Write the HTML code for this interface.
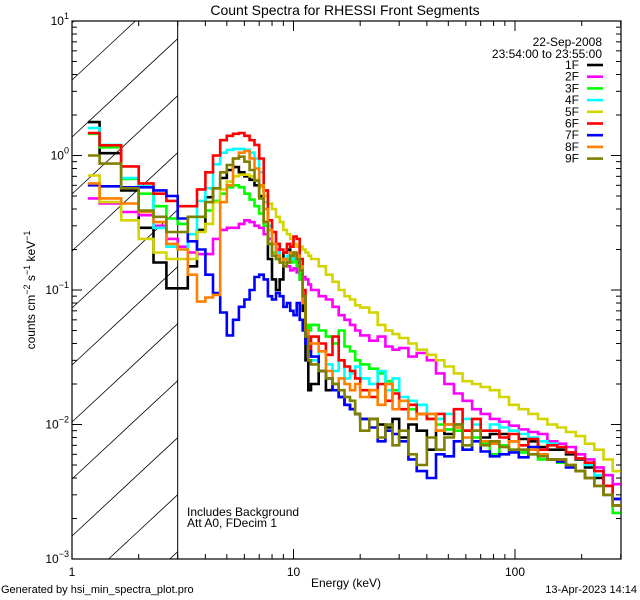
<!DOCTYPE html>
<html><head><meta charset="utf-8">
<style>
html,body{margin:0;padding:0;background:#fff;width:640px;height:600px;overflow:hidden;}
svg{display:block;font-family:"Liberation Sans",sans-serif;overflow:hidden;}
</style></head>
<body>
<svg id="chart" width="640" height="600" viewBox="0 0 640 600" xmlns="http://www.w3.org/2000/svg">
<rect width="640" height="600" fill="#fff"/>
<text x="345" y="15" font-size="14" text-anchor="middle">Count Spectra for RHESSI Front Segments</text>
<g id="hatch"></g>
<g id="axes"></g>
<g id="series"></g>
<g id="legend">
<text x="602" y="46" font-size="12" text-anchor="end">22-Sep-2008</text>
<text x="602" y="58" font-size="12" text-anchor="end">23:54:00 to 23:55:00</text>
</g>
<text x="187" y="516" font-size="12">Includes Background</text>
<text x="187" y="527" font-size="12">Att A0, FDecim 1</text>
<text x="346" y="587" font-size="12" text-anchor="middle">Energy (keV)</text>
<text transform="translate(35,290) rotate(-90)" font-size="12" text-anchor="middle">counts cm<tspan dy="-5" font-size="9">−2</tspan><tspan dy="5"> s</tspan><tspan dy="-5" font-size="9">−1</tspan><tspan dy="5"> keV</tspan><tspan dy="-5" font-size="9">−1</tspan></text>
<text x="1" y="593" font-size="11">Generated by hsi_min_spectra_plot.pro</text>
<text x="637" y="593" font-size="11" text-anchor="end">13-Apr-2023 14:14</text>
</svg>
<script>
const names = ["1F","2F","3F","4F","5F","6F","7F","8F","9F"];
const colors = ["#000000","#ff00ff","#00ff00","#00ffff","#d4d400","#ff0000","#0000ff","#ff8000","#808000"];
const lowEdges = [1.18,1.333,1.667,2,2.333,2.667,3,3.333,3.667,4,4.333,4.667,5,5.333,5.667,6,6.333,6.667,7,7.333,7.667,8,8.333,8.667,9,9.333,9.667,10,10.333,10.667,11,11.333,11.667];
const highEdges = [12,13,14,15,16,17,18,19,20,22,24,26,28,30,33,36,40,44,48,53,58,64,70,77,85,94,104,115,127,140,155,170,188,207,228,251,276,300];
const s1F = [1.77,1.04,0.55,0.29,0.16,0.103,0.103,0.15,0.28,0.49,0.57,0.68,0.78,0.82,0.75,0.70,0.66,0.60,0.50,0.32,0.17,0.12,0.10,0.12,0.19,0.20,0.17,0.18,0.16,0.12,0.07,0.03,0.018,
 0.02,0.025,0.018,0.02,0.016,0.014,0.013,0.012,0.011,0.011,0.010,0.0095,0.011,0.008,0.010,0.009,0.0065,0.009,0.0085,0.010,0.009,0.009,0.008,0.0085,0.0085,0.0075,0.0078,0.0075,0.0068,0.0065,0.0065,0.006,0.0055,0.0048,0.004,0.0035,0.0025];
const s2F = [0.48,0.44,0.38,0.36,0.30,0.24,0.21,0.19,0.185,0.185,0.24,0.28,0.29,0.29,0.31,0.33,0.32,0.30,0.29,0.26,0.24,0.22,0.20,0.17,0.16,0.15,0.14,0.145,0.135,0.13,0.125,0.12,0.11,
 0.10,0.09,0.085,0.075,0.065,0.06,0.055,0.05,0.046,0.042,0.045,0.038,0.036,0.037,0.032,0.034,0.030,0.024,0.020,0.017,0.015,0.013,0.012,0.011,0.0105,0.0098,0.0092,0.0088,0.0085,0.0075,0.0072,0.0068,0.006,0.0055,0.0048,0.0042,0.0036];
const s3F = [1.45,1.15,0.67,0.52,0.42,0.34,0.31,0.35,0.35,0.39,0.46,0.52,0.58,0.60,0.58,0.52,0.47,0.42,0.37,0.30,0.22,0.19,0.17,0.17,0.16,0.17,0.16,0.17,0.15,0.12,0.08,0.055,0.05,
 0.055,0.05,0.045,0.04,0.05,0.038,0.035,0.030,0.028,0.026,0.024,0.021,0.018,0.015,0.013,0.012,0.011,0.010,0.0092,0.009,0.0065,0.008,0.0072,0.006,0.007,0.0065,0.0062,0.006,0.0055,0.0055,0.0052,0.005,0.0045,0.004,0.0035,0.003,0.0022];
const s4F = [1.6,1.2,0.68,0.59,0.29,0.21,0.20,0.26,0.46,0.57,0.86,1.05,1.10,1.12,1.12,1.10,1.05,0.95,0.75,0.45,0.30,0.22,0.19,0.17,0.16,0.18,0.17,0.18,0.17,0.14,0.09,0.05,0.03,
 0.03,0.035,0.028,0.025,0.030,0.022,0.024,0.027,0.022,0.020,0.025,0.018,0.022,0.016,0.015,0.014,0.012,0.011,0.012,0.010,0.011,0.010,0.009,0.010,0.0095,0.009,0.0085,0.008,0.0075,0.0072,0.0068,0.0062,0.0056,0.005,0.0042,0.0035,0.0028];
const s5F = [0.71,0.45,0.33,0.24,0.19,0.17,0.17,0.17,0.27,0.31,0.45,0.56,0.64,0.70,0.72,0.72,0.70,0.66,0.58,0.50,0.44,0.40,0.35,0.32,0.28,0.26,0.24,0.22,0.21,0.21,0.20,0.19,0.18,
 0.17,0.15,0.13,0.115,0.10,0.09,0.085,0.077,0.074,0.068,0.055,0.05,0.047,0.044,0.04,0.036,0.033,0.03,0.027,0.024,0.021,0.02,0.019,0.018,0.016,0.014,0.013,0.012,0.011,0.010,0.0095,0.0088,0.0082,0.0072,0.0065,0.0055,0.0045];
const s6F = [1.47,1.19,0.83,0.62,0.52,0.46,0.42,0.42,0.56,0.75,1.0,1.3,1.4,1.45,1.47,1.40,1.30,1.20,0.95,0.55,0.33,0.27,0.22,0.20,0.19,0.22,0.21,0.25,0.24,0.17,0.10,0.05,0.035,
 0.045,0.040,0.033,0.045,0.03,0.027,0.025,0.022,0.018,0.016,0.020,0.015,0.017,0.013,0.014,0.012,0.011,0.012,0.010,0.013,0.009,0.011,0.009,0.009,0.008,0.0085,0.007,0.0078,0.0065,0.007,0.0068,0.0062,0.0056,0.0052,0.0045,0.0035,0.0028];
const s7F = [0.6,0.59,0.58,0.58,0.55,0.50,0.34,0.23,0.20,0.13,0.095,0.068,0.046,0.06,0.075,0.085,0.10,0.125,0.13,0.12,0.09,0.085,0.095,0.09,0.075,0.08,0.07,0.065,0.08,0.06,0.05,0.04,0.035,
 0.032,0.025,0.022,0.018,0.016,0.014,0.013,0.012,0.011,0.0095,0.0075,0.009,0.0085,0.0075,0.0055,0.0045,0.004,0.006,0.0058,0.0075,0.0065,0.0075,0.0063,0.0058,0.006,0.0062,0.0057,0.0068,0.006,0.0055,0.0053,0.0048,0.0045,0.004,0.0035,0.003,0.0028];
const s8F = [0.62,0.48,0.44,0.38,0.32,0.22,0.20,0.13,0.082,0.088,0.092,0.45,0.60,0.95,1.05,1.08,0.95,0.80,0.60,0.40,0.28,0.22,0.18,0.16,0.17,0.16,0.19,0.18,0.18,0.15,0.08,0.05,0.04,
 0.04,0.035,0.025,0.020,0.022,0.02,0.018,0.020,0.016,0.018,0.014,0.020,0.013,0.015,0.011,0.012,0.012,0.009,0.010,0.0095,0.008,0.009,0.0075,0.0072,0.0068,0.0075,0.0065,0.0065,0.006,0.0055,0.0055,0.005,0.0045,0.004,0.0035,0.003,0.0025];
const s9F = [1.0,0.87,0.57,0.39,0.35,0.27,0.27,0.35,0.35,0.45,0.57,0.75,0.85,0.95,0.98,0.90,0.78,0.65,0.48,0.32,0.22,0.18,0.17,0.16,0.15,0.16,0.18,0.19,0.17,0.14,0.09,0.045,0.03,
 0.028,0.025,0.022,0.02,0.018,0.016,0.015,0.012,0.009,0.011,0.008,0.010,0.007,0.009,0.006,0.005,0.008,0.0065,0.008,0.010,0.007,0.009,0.007,0.0075,0.0068,0.0065,0.0065,0.006,0.0058,0.0055,0.0055,0.005,0.0045,0.004,0.0035,0.003,0.0025];
const seriesValues = [s1F,s2F,s3F,s4F,s5F,s6F,s7F,s8F,s9F];
const xTickLabels = ["1","10","100"];
const yTickExps = ["1","0","-1","-2","-3"];

const NS="http://www.w3.org/2000/svg";
const L=72,R=621,T=21,B=559;
const X_MIN=1,X_MAX=Math.pow(10,(R-L)/221.5);
const Y_MIN=1e-3,Y_MAX=10;
function xs(e){return L+(Math.log10(e)-Math.log10(X_MIN))/(Math.log10(X_MAX)-Math.log10(X_MIN))*(R-L);}
function ys(v){return T+(Math.log10(Y_MAX)-Math.log10(v))/(Math.log10(Y_MAX)-Math.log10(Y_MIN))*(B-T);}
function mk(tag,attrs,parent){const el=document.createElementNS(NS,tag);for(const k in attrs)el.setAttribute(k,attrs[k]);parent.appendChild(el);return el;}
const svg=document.getElementById('chart');
const defs=mk('defs',{},svg);
const cp=mk('clipPath',{id:'plotclip'},defs);
mk('rect',{x:L,y:T,width:R-L,height:B-T},cp);

// hatch lines computed to stay inside the hatched rectangle
const hatch=document.getElementById('hatch');
const XH=xs(3), SL=0.93;
for(let c=-400;c<900;c+=57){
  const y0=c+T+60;
  let xa=Math.max(L, L+(y0-B)/SL), xb=Math.min(XH, L+(y0-T)/SL);
  if(xb<=xa) continue;
  const ln=mk('line',{x1:xa.toFixed(1),y1:(y0-SL*(xa-L)).toFixed(1),x2:xb.toFixed(1),y2:(y0-SL*(xb-L)).toFixed(1),stroke:'#000','stroke-width':0.8},hatch);
  
  
}
const bnd=mk('line',{x1:XH,y1:T,x2:XH,y2:B,stroke:'#000','stroke-width':1},hatch);



const ax=document.getElementById('axes');
const frame=mk('rect',{x:L,y:T,width:R-L,height:B-T,fill:'none',stroke:'#000','stroke-width':1.2},ax);


for(let d=0;d<3;d++){
  for(let m=1;m<10;m++){
    const e=Math.pow(10,d)*m; if(e>X_MAX) break;
    const x=xs(e); const len=m===1?10:5;
    mk('line',{x1:x,y1:B,x2:x,y2:B-len,stroke:'#000'},ax);
    mk('line',{x1:x,y1:T,x2:x,y2:T+len,stroke:'#000'},ax);
  }
}
xTickLabels.forEach((lab,i)=>{
  const t=mk('text',{x:xs(Math.pow(10,i)),y:576,'font-size':12,'text-anchor':'middle'},ax);
  t.textContent=lab;
  
  
});
for(let d=-3;d<1;d++){
  for(let m=1;m<10;m++){
    const v=Math.pow(10,d)*m; const y=ys(v); const len=m===1?10:5;
    mk('line',{x1:L,y1:y,x2:L+len,y2:y,stroke:'#000'},ax);
    mk('line',{x1:R,y1:y,x2:R-len,y2:y,stroke:'#000'},ax);
  }
}
yTickExps.forEach(ex=>{
  const y=ys(Math.pow(10,+ex));
  const t=mk('text',{x:L-3,y:y+4,'font-size':12,'text-anchor':'end'},ax);
  t.innerHTML='10<tspan dy="-6" font-size="9">'+ex.replace('-','−')+'</tspan>';
  
  
});

const edges=lowEdges.concat(highEdges);
const sg=document.getElementById('series');
sg.setAttribute('clip-path','url(#plotclip)');
seriesValues.forEach((vals,si)=>{
  let d='';
  vals.forEach((v,i)=>{
    const x0=xs(edges[i]),x1=xs(edges[i+1]),y=ys(v);
    d+=(i===0?'M':'L')+x0.toFixed(1)+','+y.toFixed(1)+'L'+x1.toFixed(1)+','+y.toFixed(1);
  });
  const p=mk('path',{d:d,fill:'none',stroke:colors[si],'stroke-width':2.6,'stroke-linejoin':'miter'},sg);
  
  
});

const lg=document.getElementById('legend');
names.forEach((n,i)=>{
  const y=69+i*11.7;
  const t=mk('text',{x:579,y:y,'font-size':12,'text-anchor':'end'},lg);
  t.textContent=n;
  
  
  const l=mk('line',{x1:587,y1:y-4,x2:603,y2:y-4,stroke:colors[i],'stroke-width':2.6},lg);
  
  
});
</script>
</body></html>
